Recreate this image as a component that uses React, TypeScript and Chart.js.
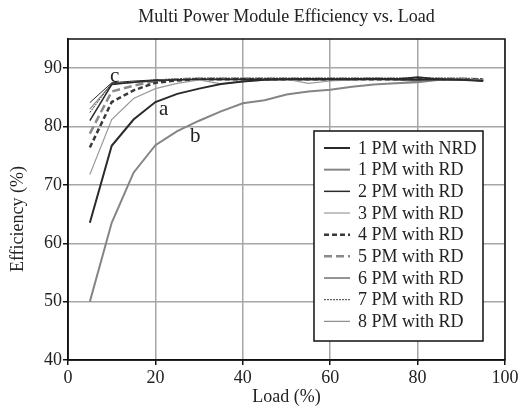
import React, { useEffect, useRef } from "react";
import { Chart, registerables } from "chart.js";

Chart.register(...registerables);

const loads = [5, 10, 15, 20, 25, 30, 35, 40, 45, 50, 55, 60, 65, 70, 75, 80, 85, 90, 95];

const pm1NRD = [63.5, 76.7, 81.2, 84.2, 85.6, 86.5, 87.3, 87.7, 88.0, 88.1, 88.1, 88.1, 88.1, 88.2, 88.1, 88.0, 88.1, 88.0, 87.8];
const pm1RD = [50.0, 63.5, 72.1, 76.8, 79.2, 81.0, 82.6, 84.0, 84.5, 85.5, 86.0, 86.3, 86.8, 87.2, 87.4, 87.6, 88.0, 88.1, 87.9];
const pm2RD = [81.0, 87.2, 87.6, 87.9, 88.0, 88.1, 88.1, 88.1, 88.1, 88.1, 88.2, 88.1, 88.1, 88.2, 88.1, 88.5, 88.1, 88.0, 87.9];
const pm3RD = [71.8, 81.2, 84.8, 86.5, 87.4, 88.0, 87.3, 87.7, 88.0, 88.1, 87.4, 87.8, 88.0, 88.1, 88.1, 87.9, 88.1, 88.0, 88.0];
const pm4RD = [76.4, 84.2, 86.2, 87.5, 87.9, 88.1, 88.1, 88.1, 88.1, 88.1, 88.1, 88.1, 88.1, 88.1, 88.1, 88.1, 88.1, 88.1, 88.0];
const pm5RD = [78.8, 86.0, 87.0, 87.8, 88.1, 88.2, 88.2, 88.2, 88.2, 88.2, 88.2, 88.2, 88.2, 88.2, 88.2, 88.2, 88.2, 88.2, 88.1];
const pm6RD = [84.1, 87.5, 87.8, 88.0, 88.0, 88.1, 88.1, 88.1, 88.1, 88.1, 88.1, 88.1, 88.1, 88.1, 88.1, 88.2, 88.1, 88.0, 87.9];
const pm7RD = [82.4, 87.4, 87.6, 88.0, 88.2, 88.3, 88.3, 88.3, 88.3, 88.3, 88.3, 88.3, 88.3, 88.3, 88.3, 88.3, 88.3, 88.3, 88.2];
const pm8RD = [83.0, 87.3, 87.5, 87.8, 88.0, 88.0, 88.0, 88.0, 88.0, 88.0, 88.0, 88.0, 88.0, 88.0, 88.0, 87.7, 88.0, 88.0, 87.8];

const seriesLabels = [
  "1 PM with NRD", "1 PM with RD", "2 PM with RD", "3 PM with RD", "4 PM with RD",
  "5 PM with RD", "6 PM with RD", "7 PM with RD", "8 PM with RD",
];
const seriesValues = [pm1NRD, pm1RD, pm2RD, pm3RD, pm4RD, pm5RD, pm6RD, pm7RD, pm8RD];
const seriesColors = ["#2a2a2a", "#858585", "#2a2a2a", "#9a9a9a", "#3a3a3a", "#8a8a8a", "#2a2a2a", "#3a3a3a", "#8a8a8a"];
const seriesWidths = [2, 2, 1.5, 1.2, 2.5, 2.5, 1, 1, 1.2];
const seriesDashes = [[], [], [], [], [5, 3], [8, 4], [], [2, 1], []];

const annotations = [
  { text: "a", x: 21.9, y: 83.0 },
  { text: "b", x: 29.1, y: 78.3 },
  { text: "c", x: 10.7, y: 88.6 },
];

const chartTitle = "Multi Power Module Efficiency vs. Load";
const xTitle = "Load (%)";
const yTitle = "Efficiency (%)";
const xTicks = [0, 20, 40, 60, 80, 100];
const yTicks = [40, 50, 60, 70, 80, 90];

const FONT = "'Liberation Serif', 'DejaVu Serif', serif";

export default function App() {
  const ref = useRef<HTMLCanvasElement | null>(null);

  useEffect(() => {
    document.body.style.margin = "0";
    const canvas = ref.current;
    if (!canvas) return;

    const framePlugin = {
      id: "frameLegend",
      afterDraw(chart: any) {
        const { ctx, chartArea } = chart;
        const xs = chart.scales.x;
        const ys = chart.scales.y;
        ctx.save();
        // frame
        ctx.strokeStyle = "#111";
        ctx.lineWidth = 1.5;
        ctx.strokeRect(chartArea.left, chartArea.top, chartArea.right - chartArea.left, chartArea.bottom - chartArea.top);

        // title centred over plot area
        ctx.fillStyle = "#222";
        ctx.font = `18px ${FONT}`;
        ctx.textAlign = "center";
        ctx.textBaseline = "middle";
        ctx.fillText(chartTitle, (chartArea.left + chartArea.right) / 2, 17);

        // y title
        ctx.save();
        ctx.translate(18, 219);
        ctx.rotate(-Math.PI / 2);
        ctx.fillText(yTitle, 0, 0);
        ctx.restore();

        // annotations
        ctx.font = `21px ${FONT}`;
        annotations.forEach((a) => {
          ctx.fillText(a.text, xs.getPixelForValue(a.x), ys.getPixelForValue(a.y));
        });

        // legend
        const boxRight = chartArea.right - 22;
        const boxBottom = chartArea.bottom - 19;
        const boxLeft = boxRight - 169;
        const boxTop = boxBottom - 210;
        ctx.fillStyle = "#fff";
        ctx.fillRect(boxLeft, boxTop, boxRight - boxLeft, boxBottom - boxTop);
        ctx.strokeStyle = "#111";
        ctx.lineWidth = 1.5;
        ctx.strokeRect(boxLeft, boxTop, boxRight - boxLeft, boxBottom - boxTop);
        ctx.font = `18px ${FONT}`;
        ctx.textAlign = "left";
        ctx.textBaseline = "middle";
        chart.data.datasets.forEach((ds: any, i: number) => {
          const yy = boxTop + 17 + i * 21.67;
          ctx.beginPath();
          ctx.strokeStyle = ds.borderColor;
          ctx.lineWidth = ds.borderWidth;
          ctx.setLineDash(ds.borderDash || []);
          ctx.moveTo(boxLeft + 10, yy);
          ctx.lineTo(boxLeft + 36, yy);
          ctx.stroke();
          ctx.setLineDash([]);
          ctx.fillStyle = "#222";
          ctx.fillText(ds.label, boxLeft + 44, yy + 1);
        });
        ctx.restore();
      },
    };

    const chart = new Chart(canvas, {
      type: "line",
      data: {
        datasets: seriesLabels.map((label, i) => ({
          label,
          data: loads.map((x, j) => ({ x, y: seriesValues[i][j] })),
          borderColor: seriesColors[i],
          backgroundColor: seriesColors[i],
          borderWidth: seriesWidths[i],
          borderDash: seriesDashes[i],
          pointRadius: 0,
          tension: 0,
          fill: false,
        })),
      },
      options: {
        animation: false,
        responsive: false,
        maintainAspectRatio: false,
        layout: { padding: { left: 0, right: 25, top: 39, bottom: 0 } },
        plugins: {
          legend: { display: false },
          tooltip: { enabled: false },
          title: { display: false },
        },
        scales: {
          x: {
            type: "linear",
            min: 0,
            max: 100,
            afterBuildTicks: (s: any) => { s.ticks = xTicks.map((v) => ({ value: v })); },
            afterFit: (s: any) => { s.height = 56; },
            ticks: { color: "#222", font: { family: FONT, size: 18 }, padding: 2, maxRotation: 0 },
            grid: { color: "#a6a6a6", lineWidth: 1.5, tickLength: 5, tickColor: "#111", drawTicks: true },
            border: { color: "#111", width: 1.5 },
            title: { display: true, text: xTitle, color: "#222", font: { family: FONT, size: 18 }, padding: { top: 0, bottom: 8 } },
          },
          y: {
            type: "linear",
            min: 40,
            max: 95,
            afterBuildTicks: (s: any) => { s.ticks = yTicks.map((v) => ({ value: v })); },
            afterFit: (s: any) => { s.width = 68; },
            ticks: { color: "#222", font: { family: FONT, size: 18 }, padding: 1 },
            grid: { color: "#a6a6a6", lineWidth: 1.5, tickLength: 5, tickColor: "#111", drawTicks: true },
            border: { color: "#111", width: 1.5 },
          },
        },
      },
      plugins: [framePlugin],
    } as any);

    return () => chart.destroy();
  }, []);

  return (
    <div style={{ width: 530, height: 416 }}>
      <canvas ref={ref} width={530} height={416} style={{ display: "block", width: 530, height: 416 }} />
    </div>
  );
}
